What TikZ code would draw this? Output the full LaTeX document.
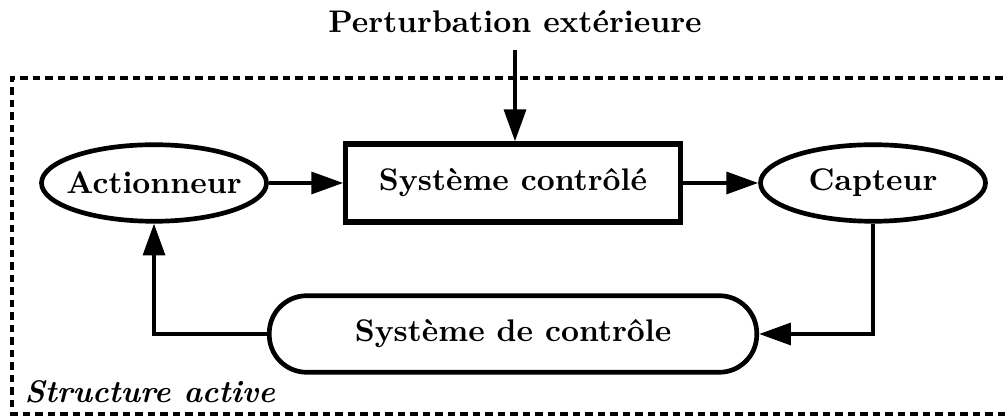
\documentclass[tikz,border=0pt]{standalone}
\usetikzlibrary{shapes.geometric,arrows.meta}
\begin{document}
\begin{tikzpicture}[x=0.32pt,y=-0.32pt,
  every node/.style={font=\bfseries, inner sep=0pt},
  ell/.style={ellipse, draw, line width=1.5pt, minimum width=72pt, minimum height=24.5pt},
  blk/.style={rectangle, draw, line width=1.7pt, minimum width=107pt, minimum height=25pt},
  pill/.style={rectangle, draw, line width=1.5pt, rounded corners=12pt, minimum width=156pt, minimum height=24.5pt},
  conn/.style={line width=1.2pt, -{Triangle[length=10.2pt,width=7pt]}},
  frame/.style={line width=1.3pt, dash pattern=on 2.3pt off 1.7pt}]
\useasboundingbox (0,0) rectangle (1008,418);
\draw[frame] (1015,78) -- (12,78) -- (12,414) -- (1015,414);
\node (pert) at (515,22) {Perturbation extérieure};
\node[ell, inner xsep=-2.8pt] (act) at (154,183) {Actionneur};
\node[blk] (sys) at (513,183) {Système contrôlé};
\node[ell] (cap) at (873,183) {Capteur};
\node[pill] (ctl) at (513,334) {Système de contrôle};
\node[font=\bfseries\itshape, anchor=west] (lab) at (24,392) {Structure active};
\coordinate (ptop) at (515,50);
\coordinate (c1) at (873,334);
\coordinate (c2) at (154,334);
\draw[conn] (ptop) -- (sys.north -| ptop);
\draw[conn] (act) -- (sys);
\draw[conn] (sys) -- (cap);
\draw[conn] (cap.south) -- (c1) -- (ctl.east);
\draw[conn] (ctl.west) -- (c2) -- (act.south);
\end{tikzpicture}
\end{document}
